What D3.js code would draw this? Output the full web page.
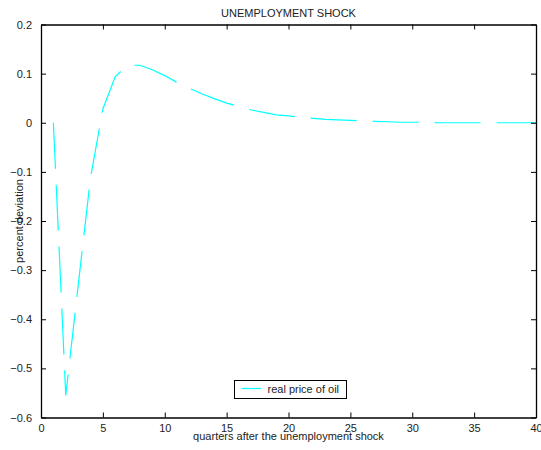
<!DOCTYPE html>
<html>
<head>
<meta charset="utf-8">
<script src="https://cdn.jsdelivr.net/npm/d3@7"></script>
<style>
  html, body { margin: 0; padding: 0; background: #fff; }
  text { font-family: Arial, "Liberation Sans", sans-serif; }
</style>
</head>
<body>
<svg id="chart" width="541" height="450"></svg>
<script>
const quarters = d3.range(1, 41);
const oilPrice = [
  0.000, -0.555, -0.332, -0.112, 0.028, 0.094, 0.117, 0.117, 0.108, 0.096,
  0.082, 0.070, 0.059, 0.049, 0.040, 0.033, 0.026, 0.021, 0.016, 0.014,
  0.011, 0.009, 0.007, 0.006, 0.005, 0.004, 0.003, 0.002, 0.001, 0.001,
  0.001, 0.000, 0.000, 0.000, 0.000, 0.000, 0.000, 0.000, 0.000, 0.000
];
const xTicks = [0, 5, 10, 15, 20, 25, 30, 35, 40];
const yTicks = [-0.6, -0.5, -0.4, -0.3, -0.2, -0.1, 0, 0.1, 0.2];
const titleText = "UNEMPLOYMENT SHOCK";
const xLabel = "quarters after the unemployment shock";
const yLabel = "percent deviation";
const seriesName = "real price of oil";

const svg = d3.select("#chart");
const pL = 41, pR = 536, pT = 24.5, pB = 417.5;

const x = d3.scaleLinear().domain([0, 40]).range([pL, pR]);
const y = d3.scaleLinear().domain([-0.6, 0.2]).range([pB, pT]);

const fmtY = d => d === 0 ? "0" : d3.format(".1f")(d);

// Data line
const line = d3.line().x((d, i) => x(quarters[i])).y(d => y(d));
svg.append("path")
  .datum(oilPrice)
  .attr("d", line)
  .attr("fill", "none")
  .attr("stroke", "#00ffff")
  .attr("stroke-width", 1.2)
  .attr("stroke-dasharray", "46,16");

// Axes (ticks inward)
const axStyle = g => {
  g.select(".domain").attr("stroke", "#000").attr("stroke-width", 1.3);
  g.selectAll(".tick line").attr("stroke", "#000");
  g.selectAll(".tick text").attr("fill", "#222").style("font-size", "11px")
    .style("font-family", "Arial, 'Liberation Sans', sans-serif");
};

svg.append("g").attr("transform", `translate(0,${pB})`)
  .call(d3.axisBottom(x).tickValues(xTicks).tickSize(-5).tickSizeOuter(0).tickPadding(7))
  .call(axStyle);
svg.append("g").attr("transform", `translate(0,${pT})`)
  .call(d3.axisTop(x).tickValues(xTicks).tickSize(-5).tickSizeOuter(0).tickFormat(""))
  .call(axStyle);
svg.append("g").attr("transform", `translate(${pL},0)`)
  .call(d3.axisLeft(y).tickValues(yTicks).tickSize(-5).tickSizeOuter(0).tickFormat(fmtY).tickPadding(9))
  .call(axStyle);
svg.append("g").attr("transform", `translate(${pR},0)`)
  .call(d3.axisRight(y).tickValues(yTicks).tickSize(-5).tickSizeOuter(0).tickFormat(""))
  .call(axStyle);

// Titles
svg.append("text").attr("x", 288.5).attr("y", 17).attr("text-anchor", "middle")
  .style("font-size", "11px").attr("fill", "#222").text(titleText);
svg.append("text").attr("x", 288.5).attr("y", 440).attr("text-anchor", "middle")
  .style("font-size", "11px").attr("fill", "#222").text(xLabel);
svg.append("text").attr("transform", `translate(23,${(pT + pB) / 2}) rotate(-90)`)
  .attr("text-anchor", "middle").style("font-size", "11px").attr("fill", "#222").text(yLabel);

// Legend
const lg = svg.append("g");
lg.append("rect").attr("x", 234.5).attr("y", 380.5).attr("width", 112).attr("height", 18)
  .attr("fill", "#fff").attr("stroke", "#000").attr("stroke-width", 1);
lg.append("line").attr("x1", 241.5).attr("x2", 261).attr("y1", 388.5).attr("y2", 388.5)
  .attr("stroke", "#00ffff").attr("stroke-width", 1.2);
lg.append("text").attr("x", 267.5).attr("y", 392.5).style("font-size", "11px")
  .attr("fill", "#222").text(seriesName);
</script>
</body>
</html>
